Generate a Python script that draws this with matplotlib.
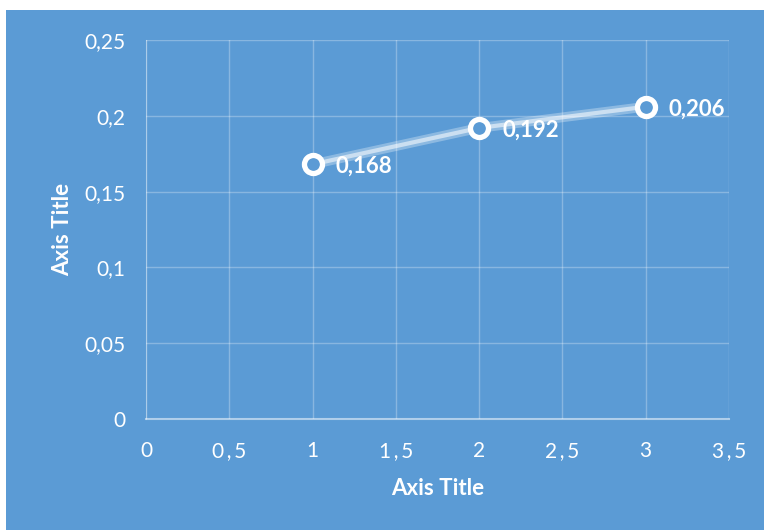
import matplotlib.pyplot as plt
from matplotlib.patches import Rectangle
from matplotlib.ticker import FuncFormatter, MultipleLocator

x_vals = [1, 2, 3]
y_vals = [0.168, 0.192, 0.206]
point_labels = ["0,168", "0,192", "0,206"]

bg = "#5B9BD5"
plt.rcParams['font.family'] = ['Lato', 'DejaVu Sans']

fig = plt.figure(figsize=(7.64, 5.30), dpi=100, facecolor="white")
# blue chart area, leaving a thin white strip at top and left
fig.patches.append(Rectangle((6 / 764, 0), 1, 1 - 10 / 530, transform=fig.transFigure,
                             facecolor=bg, edgecolor="none", zorder=-10))

ax = fig.add_axes([146 / 764, 1 - 419 / 530, (729 - 146) / 764, (419 - 40) / 530])
ax.set_facecolor(bg)
ax.set_xlim(0, 3.5)
ax.set_ylim(0, 0.25)
ax.xaxis.set_major_locator(MultipleLocator(0.5))
ax.yaxis.set_major_locator(MultipleLocator(0.05))

def comma(v, pos):
    return f"{v:g}".replace(".", ",")

def comma_wide(v, pos):
    # x labels are set with loose spacing around the comma
    return f"{v:g}".replace(".", "\u2009,\u2009")

ax.xaxis.set_major_formatter(FuncFormatter(comma_wide))
ax.yaxis.set_major_formatter(FuncFormatter(comma))

ax.grid(True, color="white", alpha=0.28, linewidth=1)
ax.set_axisbelow(True)
for side in ["top", "right"]:
    ax.spines[side].set_visible(False)
ax.spines["left"].set_color((1, 1, 1, 0.3))
ax.spines["bottom"].set_color((1, 1, 1, 0.5))
ax.spines["bottom"].set_linewidth(1.5)
ax.tick_params(length=0, colors="white", labelsize=15)
ax.tick_params(axis="y", pad=15)
ax.tick_params(axis="x", pad=16)

# soft glowing line
ax.plot(x_vals, y_vals, color="white", alpha=0.3, linewidth=7, solid_capstyle="round", zorder=3)
ax.plot(x_vals, y_vals, color="white", alpha=0.55, linewidth=3, solid_capstyle="round", zorder=3)
ax.plot(x_vals, y_vals, linestyle="none", marker="o", markersize=13,
        markerfacecolor=bg, markeredgecolor="white", markeredgewidth=3.8, zorder=4)

for xv, yv, lab in zip(x_vals, y_vals, point_labels):
    ax.annotate(lab, (xv, yv), xytext=(16.5, -1.5), textcoords="offset points",
                ha="left", va="center", color="white", fontsize=16, fontweight="bold")

ax.set_xlabel("Axis Title", color="white", fontsize=16, fontweight="bold", labelpad=12)
ax.set_ylabel("Axis Title", color="white", fontsize=16, fontweight="bold", labelpad=8)

fig.savefig("out.png", dpi=100, facecolor="white")
